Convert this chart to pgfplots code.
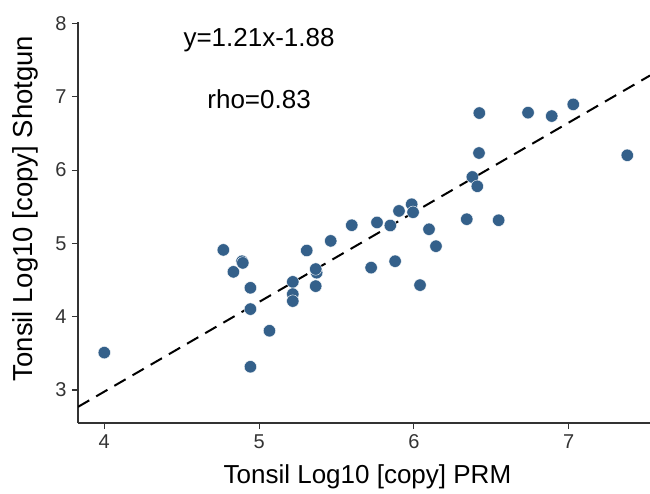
\documentclass[border=0pt]{standalone}
\usepackage{fontspec}
\setmainfont{Liberation Sans}
\usepackage{pgfplots}
\pgfplotsset{compat=1.18}
\definecolor{ptblue}{RGB}{52,96,138}
\begin{document}
\begin{tikzpicture}
\begin{axis}[
  at={(78pt,70pt)}, anchor=south west,
  scale only axis, width=572pt, height=401pt,
  xmin=3.83, xmax=7.526, ymin=2.55, ymax=8.02,
  axis lines*=left, axis line style={-, line width=1.1pt, black!80},
  xtick={4,5,6,7}, ytick={3,4,5,6,7,8},
  tick align=outside, major tick length=6pt,
  tick style={line width=1.1pt, black!80},
  /pgf/number format/assume math mode=true,
  ticklabel style={font=\fontsize{20}{24}\selectfont, text=black!80},
  xticklabel style={yshift=-2pt},
  yticklabel style={xshift=-2pt},
  xlabel={Tonsil Log10 [copy] PRM},
  ylabel={Tonsil Log10 [copy] Shotgun},
  xlabel style={at={(axis description cs:0.506,0)}, anchor=base, yshift=-60pt, font=\fontsize{26}{30}\selectfont},
  ylabel style={at={(axis description cs:0,0.535)}, anchor=base, yshift=45pt, font=\fontsize{27.5}{32}\selectfont},
]
\addplot[black, line width=2pt, dash pattern=on 13pt off 8pt] coordinates {(3.83,2.77) (7.526,7.29)};
\addplot[only marks, mark=*, mark size=6.2pt, mark options={fill=ptblue, draw=white, line width=0.4pt}] coordinates {
(4.00,3.51) (4.769,4.911) (4.834,4.612) (4.890,4.757) (4.895,4.734)
(4.944,4.394) (4.944,4.104) (4.944,3.317) (5.067,3.808)
(5.218,4.475) (5.218,4.308) (5.218,4.213) (5.308,4.903)
(5.372,4.60) (5.366,4.65) (5.366,4.417) (5.463,5.034) (5.599,5.248)
(5.724,4.669) (5.762,5.286) (5.848,5.244) (5.879,4.757) (5.904,5.443)
(5.986,5.534) (5.995,5.425) (6.098,5.193) (6.143,4.962) (6.040,4.431)
(6.342,5.330) (6.548,5.316) (6.378,5.906) (6.410,5.779) (6.421,6.233)
(6.423,6.778) (6.738,6.783) (6.891,6.737) (7.030,6.896) (7.379,6.202)
};
\node[font=\fontsize{26}{30}\selectfont] at (axis cs:5.0,7.77) {y=1.21x-1.88};
\node[font=\fontsize{26}{30}\selectfont] at (axis cs:5.0,6.97) {rho=0.83};
\end{axis}
\pgfresetboundingbox
\path[use as bounding box] (0,0) rectangle (650pt,493pt);
\end{tikzpicture}
\end{document}
